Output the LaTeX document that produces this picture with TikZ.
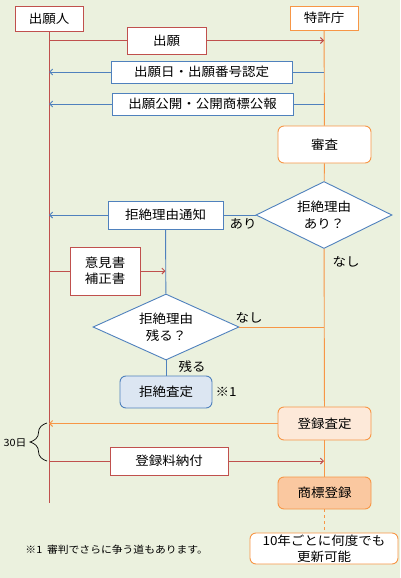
\documentclass[tikz,border=0pt]{standalone}
\usepackage{fontspec}
\setmainfont{Noto Sans CJK JP}[FakeStretch=1.08]
\usetikzlibrary{shapes.geometric, arrows.meta, decorations.pathreplacing}

\definecolor{paper}{HTML}{EBF1DE}
\definecolor{applicantred}{HTML}{C0504D}
\definecolor{officeorange}{HTML}{F79646}
\definecolor{noticeblue}{HTML}{4F81BD}
\definecolor{rejectfill}{HTML}{DCE6F2}
\definecolor{grantfill}{HTML}{FDE9D9}
\definecolor{registerfill}{HTML}{FAC8A0}

\tikzset{
    flowbox/.style={draw, rectangle, fill=white, inner sep=0pt, align=center, font=\fontsize{12.5}{16}\selectfont},
    roundbox/.style={flowbox, rounded corners=6pt},
    decision/.style={draw=noticeblue, diamond, aspect=2, fill=white, inner sep=0pt, align=center, font=\fontsize{12.5}{17}\selectfont},
    tag/.style={inner sep=0pt, font=\fontsize{12.5}{15}\selectfont},
    redline/.style={draw=applicantred},
    blueline/.style={draw=noticeblue},
    orangeline/.style={draw=officeorange}
}

\begin{document}
\begin{tikzpicture}[x=1pt, y=-1pt, line width=0.9pt, >={Straight Barb[length=3pt,width=6pt]}]
    \useasboundingbox[fill=paper] (0,0) rectangle (400,578);

    % parties
    \node (Applicant) [flowbox, draw=applicantred, minimum width=68pt, minimum height=25pt] at (49,18.5) {出願人};
    \node (Office) [flowbox, draw=officeorange, minimum width=68pt, minimum height=24pt] at (324,18) {特許庁};
    \coordinate (ApplicantEnd) at (49,503);

    % messages
    \node (Filing) [flowbox, draw=applicantred, minimum width=79pt, minimum height=27pt] at (166.5,40.5) {出願};
    \node (Acceptance) [flowbox, draw=noticeblue, minimum width=181pt, minimum height=22pt] at (201.5,72) {出願日・出願番号認定};
    \node (Publication) [flowbox, draw=noticeblue, minimum width=181pt, minimum height=22pt] at (202.5,104) {出願公開・公開商標公報};

    % examination
    \node (Examination) [roundbox, draw=officeorange, minimum width=93pt, minimum height=37pt] at (324.5,144.5) {審査};
    \node (ReasonCheck) [decision, minimum width=136pt, minimum height=67pt] at (324,215) {拒絶理由\\あり？};
    \node (Notice) [flowbox, draw=noticeblue, minimum width=115pt, minimum height=28pt] at (165.5,215) {拒絶理由通知};
    \node (Response) [flowbox, draw=applicantred, minimum width=70pt, minimum height=48pt] at (105,271) {意見書\\補正書};
    \node (RemainCheck) [decision, minimum width=146pt, minimum height=66pt] at (166,327) {拒絶理由\\残る？};
    \node (Refusal) [roundbox, draw=noticeblue, fill=rejectfill, minimum width=92pt, minimum height=32pt] at (166,392) {拒絶査定};
    \node (Grant) [roundbox, draw=officeorange, fill=grantfill, minimum width=93pt, minimum height=33pt] at (324.5,423.5) {登録査定};
    \node (Fee) [flowbox, draw=applicantred, minimum width=118pt, minimum height=28pt] at (169,461) {登録料納付};
    \node (Registration) [roundbox, draw=officeorange, fill=registerfill, minimum width=93pt, minimum height=32pt] at (324.5,493) {商標登録};
    \node (Renewal) [roundbox, draw=officeorange, minimum width=148pt, minimum height=31pt] at (324,548.5) {10年ごとに何度でも\\更新可能};

    % labels
    \node (YesLabel) [tag] at (243,224) {あり};
    \node (NoLabel) [tag] at (346,262) {なし};
    \node (ClearLabel) [tag] at (249,318) {なし};
    \node (RemainLabel) [tag] at (192,367) {残る};
    \node (Mark) [tag] at (226,392) {※1};
    \node (Days) [inner sep=0pt, font=\fontsize{10}{12}\selectfont] at (15,443) {30日};
    \node (Footnote) [anchor=west, inner sep=0pt, font=\fontsize{10}{12}\selectfont] at (25,550) {※1\ \ 審判でさらに争う道もあります。};

    % lifelines
    \draw[redline] (Applicant) -- (ApplicantEnd);
    \draw[orangeline] (Office) -- (Examination);
    \draw[orangeline] (Examination) -- (ReasonCheck);
    \draw[orangeline] (ReasonCheck) -- (Grant);
    \draw[orangeline] (Grant) -- (Registration);
    \draw[orangeline, dashed] (Registration) -- (Registration.south |- Renewal.north);

    % arrows
    \draw[redline] (Applicant.south |- Filing) -- (Filing);
    \draw[redline, ->] (Filing) -- (Office.south |- Filing);
    \draw[blueline] (Office.south |- Acceptance) -- (Acceptance);
    \draw[blueline, ->] (Acceptance) -- (Applicant.south |- Acceptance);
    \draw[blueline] (Office.south |- Publication) -- (Publication);
    \draw[blueline, ->] (Publication) -- (Applicant.south |- Publication);
    \draw[blueline] (ReasonCheck) -- (Notice);
    \draw[blueline, ->] (Notice) -- (Applicant.south |- Notice);
    \draw[blueline] (Notice) -- (RemainCheck);
    \draw[redline] (Applicant.south |- Response) -- (Response);
    \draw[redline, ->] (Response) -- (Notice.south |- Response);
    \draw[orangeline] (RemainCheck) -- (Office.south |- RemainCheck);
    \draw[blueline] (RemainCheck) -- (Refusal);
    \draw[orangeline, ->] (Grant) -- (Applicant.south |- Grant);
    \draw[redline] (Applicant.south |- Fee) -- (Fee);
    \draw[redline, ->] (Fee) -- (Office.south |- Fee);

    % period
    \draw[line width=0.7pt, decorate, decoration={brace, amplitude=17pt}] (47,461) -- (47,423);
\end{tikzpicture}
\end{document}
